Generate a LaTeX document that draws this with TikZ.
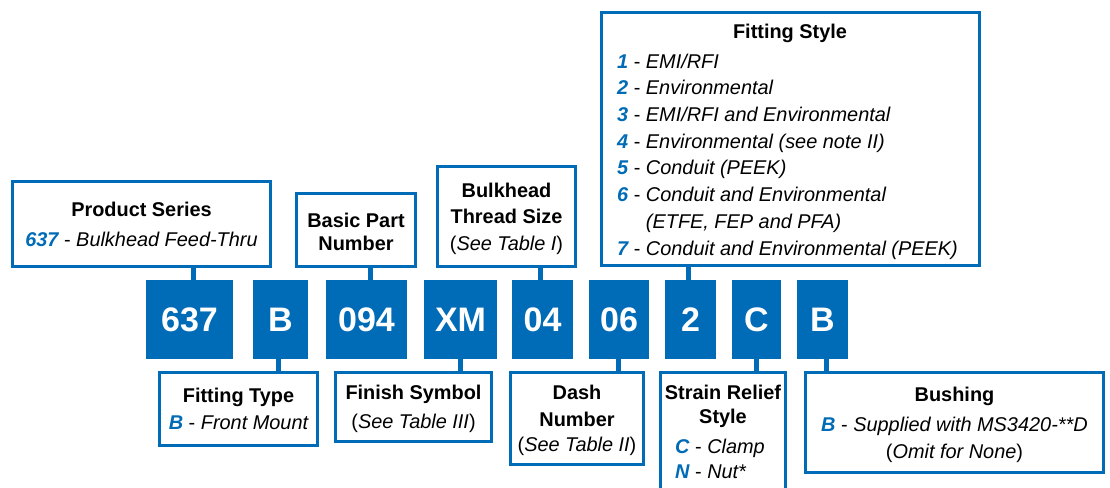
\documentclass[tikz,border=0pt]{standalone}
\usepackage{fontspec}
\setmainfont{Liberation Sans}
\definecolor{myblue}{RGB}{0,107,182}
\newcommand\cdx[1]{\textcolor{myblue}{\bfseries\itshape #1}}
\newcommand\itx[1]{{\itshape #1}}
\begin{document}
\begin{tikzpicture}[x=1pt,y=-1pt,
  frame/.style={draw=myblue, line width=3pt, fill=white, inner sep=0pt, outer sep=0pt},
  codebox/.style={fill=myblue, inner sep=0pt, outer sep=0pt, minimum height=79pt, text=white, font=\fontsize{34}{40}\selectfont\bfseries},
  link/.style={draw=myblue, line width=5pt},
  lbl/.style={font=\fontsize{19.9}{26.5}\selectfont, align=center, anchor=base, inner sep=0pt},
  lbll/.style={font=\fontsize{19.9}{26.7}\selectfont, align=left, anchor=base west, inner sep=0pt}]
\clip (0,0) rectangle (1110,487);
\fill[white] (0,0) rectangle (1110,487);

% top frames
\node[frame, minimum width=258pt, minimum height=85pt] (ps) at (141.5,224) {};
\node[frame, minimum width=119pt, minimum height=73pt] (bpn) at (356,230) {};
\node[frame, minimum width=138pt, minimum height=100pt] (bts) at (506.5,216.5) {};
\node[frame, minimum width=378pt, minimum height=253pt] (fs) at (790.5,139) {};

% bottom frames
\node[frame, minimum width=158pt, minimum height=73pt] (ft) at (238.5,409) {};
\node[frame, minimum width=156pt, minimum height=69pt] (fsym) at (413.5,407) {};
\node[frame, minimum width=133pt, minimum height=92pt] (dn) at (577,418.5) {};
\node[frame, minimum width=125pt, minimum height=128pt] (srs) at (723,436.5) {};
\node[frame, minimum width=298pt, minimum height=100pt] (bush) at (954.5,422.5) {};

% code boxes
\node[codebox, minimum width=87pt] (n637) at (189.5,319.5) {637};
\node[codebox, minimum width=55pt] (nB1) at (280.5,319.5) {B};
\node[codebox, minimum width=81pt] (n094) at (366.5,319.5) {094};
\node[codebox, minimum width=73pt] (nXM) at (460.5,319.5) {XM};
\node[codebox, minimum width=61pt] (n04) at (542.5,319.5) {04};
\node[codebox, minimum width=60pt] (n06) at (619,319.5) {06};
\node[codebox, minimum width=51pt] (n2) at (690.5,319.5) {2};
\node[codebox, minimum width=49pt] (nC) at (756.5,319.5) {C};
\node[codebox, minimum width=51pt] (nB2) at (822.5,319.5) {B};

% texts (anchor base = last line's baseline)
\node[lbl] (tps) at (141.5,246) {\textbf{Product Series}\\[3.5pt]\cdx{637} - \itx{Bulkhead Feed-Thru}};
\node[lbl] (tbpn) at (356,250) {\textbf{Basic Part}\\[-3.5pt]\textbf{Number}};
\node[lbl] (tbts) at (506.5,250) {\textbf{Bulkhead}\\\textbf{Thread Size}\\(\itx{See Table I})};
\node[lbl] (tfs) at (790,38) {\textbf{Fitting Style}};
\node[lbll] (tfsl) at (617,255) {\cdx{1} - \itx{EMI/RFI}\\
\cdx{2} - \itx{Environmental}\\
\cdx{3} - \itx{EMI/RFI and Environmental}\\
\cdx{4} - \itx{Environmental (see note II)}\\
\cdx{5} - \itx{Conduit (PEEK)}\\
\cdx{6} - \itx{Conduit and Environmental}\\
\phantom{\bfseries 6 - }\itx{(ETFE, FEP and PFA)}\\
\cdx{7} - \itx{Conduit and Environmental (PEEK)}};

\node[lbl] (tft) at (238.5,429) {\textbf{Fitting Type}\\\cdx{B} - \itx{Front Mount}};
\node[lbl] (tfsym) at (413.5,428) {\textbf{Finish Symbol}\\[2.5pt](\itx{See Table III})};
\node[lbl] (tdn) at (577,451) {\textbf{Dash}\\\textbf{Number}\\[-1.5pt](\itx{See Table II})};
\node[lbl] (tsrs) at (723,423) {\textbf{Strain Relief}\\[-2.5pt]\textbf{Style}};
\node[lbll, font=\fontsize{19.9}{25}\selectfont] (tsrsl) at (675,478) {\cdx{C} - \itx{Clamp}\\\cdx{N} - \itx{Nut*}};
\node[lbl] (tbush) at (954.5,458) {\textbf{Bushing}\\[3.5pt]\cdx{B} - \itx{Supplied with MS3420-**D}\\(\itx{Omit for None})};

% connectors top
\draw[link] ([xshift=3.5pt]n637.north) -- ([xshift=3.5pt]n637.north |- ps.south);
\draw[link] ([xshift=3.5pt]n094.north) -- ([xshift=3.5pt]n094.north |- bpn.south);
\draw[link] ([xshift=-2.5pt]n04.north) -- ([xshift=-2.5pt]n04.north |- bts.south);
\draw[link] ([xshift=-2.5pt]n2.north) -- ([xshift=-2.5pt]n2.north |- fs.south);
% connectors bottom
\draw[link] ([xshift=-2.5pt]nB1.south) -- ([xshift=-2.5pt]nB1.south |- ft.north);
\draw[link] (nXM.south) -- (nXM.south |- fsym.north);
\draw[link] ([xshift=-1pt]n06.south) -- ([xshift=-1pt]n06.south |- dn.north);
\draw[link] (nC.south) -- (nC.south |- srs.north);
\draw[link] ([xshift=3.5pt]nB2.south) -- ([xshift=3.5pt]nB2.south |- bush.north);
\end{tikzpicture}
\end{document}
